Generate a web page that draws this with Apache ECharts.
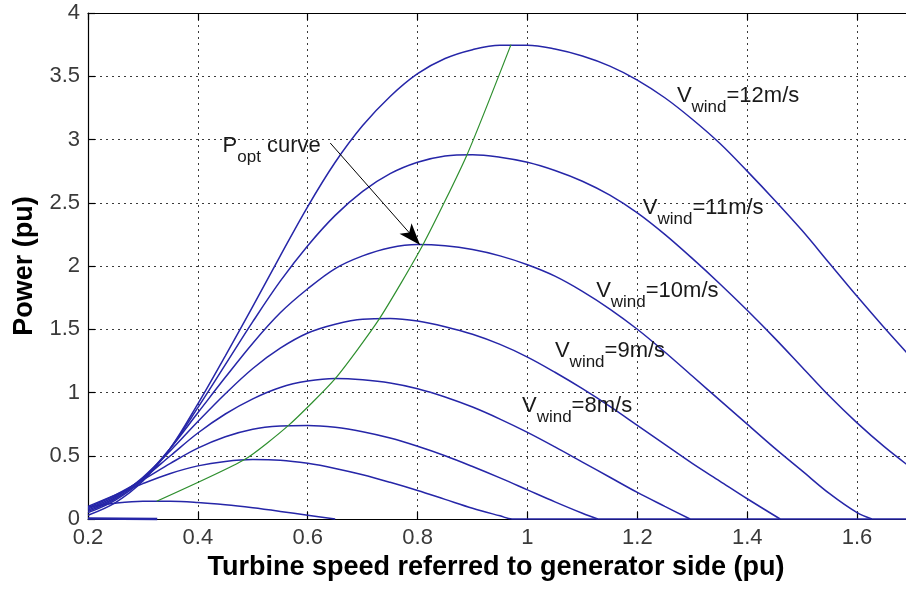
<!DOCTYPE html>
<html><head><meta charset="utf-8">
<script src="https://cdn.jsdelivr.net/npm/echarts@6/dist/echarts.min.js"></script>
<style>html,body{margin:0;padding:0;background:#fff}#c{width:906px;height:590px}</style>
</head><body><div id="c"></div>
<script>
// ---- data ----
const xTicks = [0.2, 0.4, 0.6, 0.8, 1.0, 1.2, 1.4, 1.6];
const yTicks = [0, 0.5, 1, 1.5, 2, 2.5, 3, 3.5, 4];
const xMax = 1.7;

const speed = [0.20,0.25,0.30,0.35,0.40,0.45,0.50,0.55,0.60,0.65,0.70,0.75,0.80,0.85,0.90,0.95,1.00,1.05,1.10,1.15,1.20,1.25,1.30,1.35,1.40,1.45,1.50,1.55,1.60,1.65,1.70];

const p12 = [0.03,0.13,0.30,0.56,0.91,1.29,1.68,2.08,2.47,2.82,3.11,3.34,3.52,3.64,3.71,3.745,3.745,3.715,3.66,3.58,3.47,3.33,3.16,2.97,2.75,2.52,2.28,2.02,1.76,1.51,1.27];
const p11 = [0.05,0.15,0.31,0.56,0.88,1.22,1.56,1.88,2.16,2.40,2.59,2.73,2.82,2.87,2.88,2.86,2.82,2.755,2.67,2.56,2.42,2.25,2.06,1.86,1.65,1.43,1.20,0.97,0.76,0.57,0.40];
const p10 = [0.06,0.16,0.32,0.56,0.84,1.12,1.39,1.63,1.82,1.98,2.08,2.145,2.17,2.16,2.13,2.08,2.01,1.92,1.80,1.66,1.50,1.32,1.13,0.94,0.75,0.56,0.38,0.20,0.05];
const p9  = [0.07,0.17,0.33,0.54,0.77,0.99,1.19,1.35,1.47,1.54,1.58,1.585,1.565,1.52,1.46,1.38,1.28,1.16,1.03,0.89,0.74,0.59,0.44,0.30,0.16];
const p8  = [0.08,0.18,0.32,0.50,0.68,0.83,0.95,1.04,1.09,1.11,1.10,1.075,1.03,0.965,0.885,0.79,0.685,0.57,0.45,0.33,0.21,0.10];
const p7  = [0.09,0.19,0.31,0.44,0.56,0.65,0.71,0.735,0.74,0.725,0.69,0.64,0.575,0.50,0.415,0.325,0.23,0.135,0.045];
const p6  = [0.10,0.19,0.28,0.36,0.42,0.455,0.47,0.465,0.44,0.40,0.35,0.29,0.225,0.155,0.085,0.025];
const p4  = [0.095,0.125,0.14,0.14,0.13,0.112,0.088,0.06,0.03];

// speed where each curve reaches zero (null = beyond the axis)
const zeroAt = {12: null, 11: null, 10: 1.627, 9: 1.46, 8: 1.296, 7: 1.128, 6: 0.972, 4: 0.65};
const tailToEnd = {6: true};

const lowSpeed = [0.20, 0.326];
const p2 = [0.004, 0];

const optSpeed = [0.325,0.485,0.565,0.65,0.73,0.81,0.89,0.97];
const optPower = [0.14,0.47,0.74,1.11,1.58,2.17,2.88,3.75];

// annotation anchors (data coordinates, top-left of text)
const windLabels = [
  {v:'12', at:[1.272, 3.43]},
  {v:'11', at:[1.210, 2.545]},
  {v:'10', at:[1.125, 1.889]},
  {v:'9',  at:[1.050, 1.415]},
  {v:'8',  at:[0.990, 0.980]}
];
const poptLabelAt = [0.445, 3.036];
const arrowFrom = [0.641, 2.972];
const arrowTo = [0.8045, 2.166];

// ---- build ----
const BLUE = '#2626a8';
const GREEN = '#2e8f2e';
const FONT = 'Liberation Sans, Arial, Helvetica, sans-serif';

const curves = {12:p12, 11:p11, 10:p10, 9:p9, 8:p8, 7:p7, 6:p6, 4:p4};
const series = [];
Object.keys(curves).forEach(k => {
  const p = curves[k];
  const data = p.map((y, i) => [speed[i], y]);
  if (zeroAt[k] != null) data.push([zeroAt[k], 0]);
  if (tailToEnd[k]) data.push([xMax, 0]);
  series.push({
    type: 'line', name: k + ' m/s', data, symbol: 'none', silent: true,
    smooth: 0.35, clip: false,
    lineStyle: {color: BLUE, width: 1.5}, z: 3
  });
});
series.push({
  type: 'line', name: '2 m/s', data: p2.map((y, i) => [lowSpeed[i], y]),
  symbol: 'none', silent: true, clip: false,
  lineStyle: {color: BLUE, width: 2.5}, z: 3
});
series.push({
  type: 'line', name: 'Popt', data: optPower.map((y, i) => [optSpeed[i], y]),
  symbol: 'none', silent: true, smooth: 0.2, clip: false,
  lineStyle: {color: GREEN, width: 1.2}, z: 4,
  markLine: {
    silent: true, animation: false,
    symbol: ['none', 'arrow'], symbolSize: [12, 22],
    lineStyle: {color: '#000', width: 1, type: 'solid'},
    label: {show: false},
    data: [[{coord: arrowFrom}, {coord: arrowTo}]]
  }
});

const gridDots = {type: [2, 4], color: '#3a3a3a', width: 1};
const axisCommon = {
  axisLine: {show: true, lineStyle: {color: '#000', width: 1.2}},
  axisTick: {show: true, inside: true, length: 7, lineStyle: {color: '#000', width: 1.2}},
};

const option = {
  animation: false,
  backgroundColor: '#fff',
  grid: {left: 88, top: 13, bottom: 71, right: -6, containLabel: false, outerBoundsMode: 'none'},
  xAxis: [{
    type: 'value', min: xTicks[0], max: xMax, interval: xTicks[1] - xTicks[0],
    position: 'bottom',
    ...axisCommon,
    axisLabel: {fontSize: 22, fontFamily: FONT, color: '#3a3a3a', margin: 8, showMaxLabel: false,
      formatter: v => { const t = xTicks.find(a => Math.abs(a - v) < 1e-6); return t === undefined ? '' : String(+t.toFixed(1)); }},
    splitLine: {show: true, lineStyle: gridDots},
    name: 'Turbine speed referred to generator side (pu)',
    nameLocation: 'middle', nameGap: 33,
    nameTextStyle: {fontSize: 27, fontWeight: 'bold', fontFamily: FONT, color: '#000', padding: [0, 8, 0, 0]}
  }, {
    type: 'value', min: xTicks[0], max: xMax, interval: xTicks[1] - xTicks[0],
    position: 'top',
    ...axisCommon,
    axisLabel: {show: false},
    splitLine: {show: false}
  }],
  yAxis: [{
    type: 'value', min: yTicks[0], max: yTicks[yTicks.length - 1], interval: yTicks[1] - yTicks[0],
    ...axisCommon,
    axisLabel: {fontSize: 22, fontFamily: FONT, color: '#3a3a3a', margin: 8},
    splitLine: {show: true, lineStyle: gridDots},
    name: 'Power (pu)', nameLocation: 'middle', nameRotate: 90, nameGap: 46,
    nameTextStyle: {fontSize: 27, fontWeight: 'bold', fontFamily: FONT, color: '#000'}
  }],
  series
};

const chart = echarts.init(document.getElementById('c'), null, {renderer: 'canvas'});
chart.setOption(option);

const richStyles = {
  v: {fontSize: 22, fontFamily: FONT, fill: '#1a1a1a', verticalAlign: 'top'},
  s: {fontSize: 17, fontFamily: FONT, fill: '#1a1a1a', verticalAlign: 'top', padding: [14, 0, 0, 0]}
};
const graphics = windLabels.map(l => {
  const p = chart.convertToPixel({gridIndex: 0}, l.at);
  return {type: 'text', x: p[0], y: p[1], z: 10, silent: true,
    style: {text: '{v|V}{s|wind}{v|=' + l.v + 'm/s}', rich: richStyles, align: 'left', verticalAlign: 'top'}};
});
const pp = chart.convertToPixel({gridIndex: 0}, poptLabelAt);
graphics.push({type: 'text', x: pp[0], y: pp[1], z: 10, silent: true,
  style: {text: '{v|P}{s|opt}{v| curve}', rich: richStyles, align: 'left', verticalAlign: 'top'}});
chart.setOption({graphic: graphics});
</script>
</body></html>
